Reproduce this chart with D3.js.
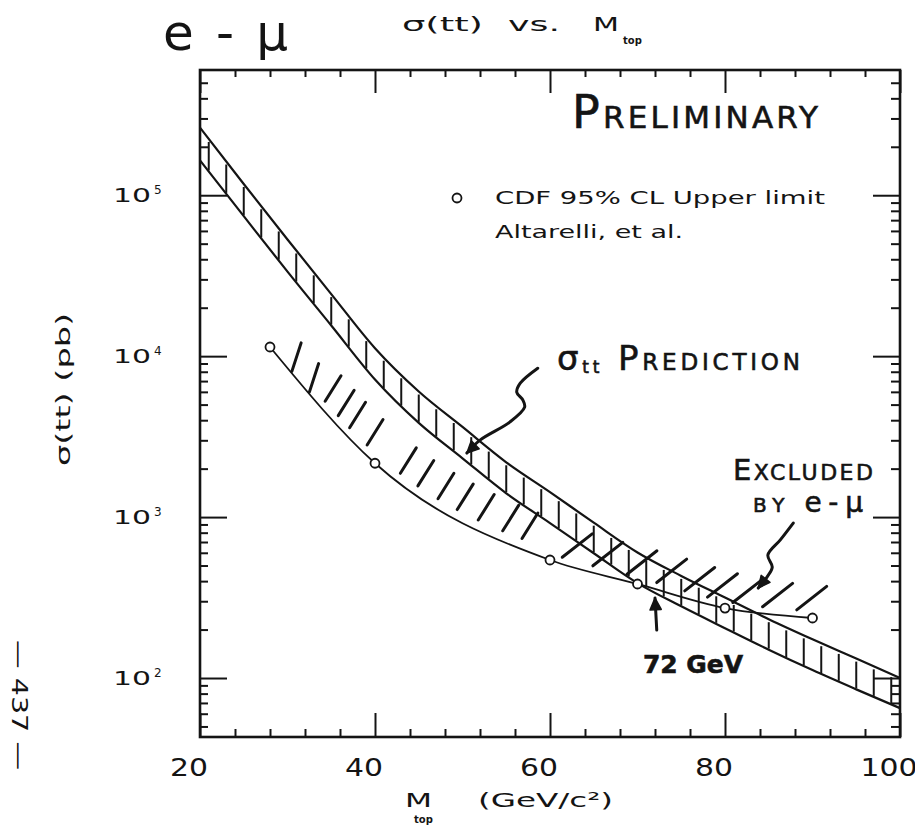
<!DOCTYPE html>
<html><head><meta charset="utf-8">
<script src="https://cdn.jsdelivr.net/npm/d3@7"></script>
<style>body{margin:0;background:#fff} svg{display:block}</style>
</head><body>
<svg id="c" width="915" height="830"></svg>
<script>
// ---------------- data ----------------
const massGrid   = [20, 25, 30, 35, 40, 45, 50, 55, 60, 65, 70, 75, 80, 85, 90, 95, 100];
const sigmaUpper = [263000, 117500, 53100, 24300, 11200, 6030, 3630, 2190, 1430, 923, 603, 431, 316, 232, 174, 132, 100];
const sigmaLower = [164800, 74100, 33500, 15500, 7160, 3850, 2320, 1406, 918, 596, 389, 279, 204, 150, 112, 85, 65];
const cdfMass  = [28, 40, 60, 70, 80, 90];
const cdfLimit = [11400, 2160, 541, 384, 272, 236];
const xTickLabels = [20, 40, 60, 80, 100];
const yTickLabels = [100, 1000, 10000, 100000];
const bandHatchMass = [21,23,25,27,29,31,33,35,37,39,41,43,45,47,49,51,53,55,57,59,61,63,65,67,69,71,73,75,77,79,81,83,85,87,89,91,93,95,97,99];
const exclHatchMass = [30.5, 32.5, 34.3, 35.8, 37.1, 39.1, 42.9, 44.9, 47.2, 49.4, 51.8, 54.6, 56.8, 61.4, 64.9, 68.8, 72.2, 75.4, 78.0, 80.9, 84.3, 88.2];
// annotation arrows in (mass, log10 sigma)
const arrowSigma = [[58.6,3.925],[56.6,3.832],[56.2,3.776],[56.9,3.727],[57.1,3.683],[55.4,3.590],[52.0,3.478],[50.5,3.398]];
const arrowExcl  = [[87.8,2.963],[86.3,2.857],[84.9,2.764],[85.4,2.689],[84.8,2.627],[83.8,2.559]];
const arrow72    = [[72.2,2.298],[72.0,2.497]];

// ---------------- setup ----------------
const svg = d3.select('#c');
const INK = '#141414';
const FONT = 'DejaVu Sans';
const x = d3.scaleLinear().domain([20, 100]).range([200, 900]);
const y = d3.scaleLog().domain([43, 6.0e5]).range([737, 70]);
const at = (m, lg) => [x(m), y(Math.pow(10, lg))];

function logInterp(ms, vs, m) {
  let i = d3.bisectRight(ms, m) - 1;
  i = Math.max(0, Math.min(ms.length - 2, i));
  const t = (m - ms[i]) / (ms[i + 1] - ms[i]);
  return Math.pow(10, Math.log10(vs[i]) * (1 - t) + Math.log10(vs[i + 1]) * t);
}
function pathYAt(node, px) {
  const L = node.getTotalLength();
  let lo = 0, hi = L;
  for (let k = 0; k < 40; k++) {
    const mid = (lo + hi) / 2;
    if (node.getPointAtLength(mid).x < px) lo = mid; else hi = mid;
  }
  return node.getPointAtLength((lo + hi) / 2).y;
}

// ---------------- axes ----------------
const yTicksAll = [];
for (let e = 1; e <= 5; e++) for (let k = 1; k <= 9; k++) {
  const v = k * Math.pow(10, e);
  if (v >= 43 && v < 5.9e5) yTicksAll.push(v);
}
const isDecade = v => Math.abs(Math.log10(v) - Math.round(Math.log10(v))) < 1e-9;
const xTicksAll = d3.range(20, 101, 4);
const isMajorX = v => v % 20 === 0;

function styleAxis(g) {
  g.select('.domain').remove();
  g.selectAll('.tick line').attr('stroke', INK).attr('stroke-width', 2);
}
svg.append('g').attr('transform', 'translate(200,0)')
  .call(d3.axisRight(y).tickValues(yTicksAll).tickFormat(''))
  .call(styleAxis).selectAll('.tick line').attr('x2', d => isDecade(d) ? 27 : 8);
svg.append('g').attr('transform', 'translate(900,0)')
  .call(d3.axisLeft(y).tickValues(yTicksAll).tickFormat(''))
  .call(styleAxis).selectAll('.tick line').attr('x2', d => isDecade(d) ? -27 : -9);
svg.append('g').attr('transform', 'translate(0,70)')
  .call(d3.axisBottom(x).tickValues(xTicksAll).tickFormat(''))
  .call(styleAxis).selectAll('.tick line').attr('y2', d => isMajorX(d) ? 23 : 7);
svg.append('g').attr('transform', 'translate(0,737)')
  .call(d3.axisTop(x).tickValues(xTicksAll).tickFormat(''))
  .call(styleAxis).selectAll('.tick line').attr('y2', d => isMajorX(d) ? -24 : -8);

svg.append('rect').attr('x', 200).attr('y', 70).attr('width', 700).attr('height', 667)
  .attr('fill', 'none').attr('stroke', INK).attr('stroke-width', 2.6);

// tick labels
const yl = svg.append('g').attr('font-family', FONT).attr('fill', INK);
yTickLabels.forEach(v => {
  yl.append('text').attr('x', 113).attr('y', y(v) + 7).attr('font-size', 20)
    .attr('textLength', 38).attr('lengthAdjust', 'spacingAndGlyphs').text('10');
  yl.append('text').attr('x', 154).attr('y', y(v) - 1).attr('font-size', 12)
    .text(Math.round(Math.log10(v)));
});
const xl = svg.append('g').attr('font-family', FONT).attr('fill', INK);
xTickLabels.forEach(v => {
  const w = String(v).length * 19;
  xl.append('text').attr('x', x(v) - 11 - w / 2).attr('y', 776)
    .attr('font-size', 25).attr('textLength', w).attr('lengthAdjust', 'spacingAndGlyphs').text(v);
});

// axis titles
svg.append('text').attr('transform', 'translate(70,390) rotate(-90)')
  .attr('x', -76).attr('font-family', FONT).attr('font-size', 20)
  .attr('textLength', 153).attr('lengthAdjust', 'spacingAndGlyphs').attr('fill', INK).text('σ(tt)  (pb)');
svg.append('text').attr('x', 405).attr('y', 807).attr('font-family', FONT)
  .attr('font-size', 20).attr('textLength', 27).attr('lengthAdjust', 'spacingAndGlyphs').attr('fill', INK).text('M');
svg.append('text').attr('x', 414).attr('y', 823).attr('font-family', FONT)
  .attr('font-size', 10).attr('font-weight', 'bold').attr('fill', INK).text('top');
svg.append('text').attr('x', 478).attr('y', 807).attr('font-family', FONT)
  .attr('font-size', 20).attr('textLength', 135).attr('lengthAdjust', 'spacingAndGlyphs').attr('fill', INK).text('(GeV/c²)');

// title
const tt = svg.append('g').attr('font-family', FONT).attr('fill', INK).attr('font-size', 19);
tt.append('text').attr('x', 402).attr('y', 31).attr('textLength', 81).attr('lengthAdjust', 'spacingAndGlyphs').text('σ(tt)');
tt.append('text').attr('x', 508).attr('y', 31).attr('textLength', 52).attr('lengthAdjust', 'spacingAndGlyphs').text('vs.');
tt.append('text').attr('x', 593).attr('y', 31).attr('textLength', 26).attr('lengthAdjust', 'spacingAndGlyphs').text('M');
tt.append('text').attr('x', 623).attr('y', 44).attr('font-size', 10).attr('font-weight', 'bold').text('top');
svg.append('text').attr('x', 163).attr('y', 50).attr('font-family', FONT)
  .attr('font-size', 50).attr('textLength', 125).attr('lengthAdjust', 'spacing').attr('fill', INK).text('e - μ');

// page number
svg.append('text').attr('transform', 'translate(12,705) rotate(90)')
  .attr('x', -65).attr('font-family', FONT).attr('font-size', 22)
  .attr('textLength', 130).attr('lengthAdjust', 'spacingAndGlyphs').attr('fill', INK).text('— 437 —');

// ---------------- theory band ----------------
const bandU = massGrid.map((m, i) => ({ m, v: sigmaUpper[i] }));
const bandL = massGrid.map((m, i) => ({ m, v: sigmaLower[i] }));
const line = d3.line().x(d => x(d.m)).y(d => y(d.v)).curve(d3.curveMonotoneX);
const plot = svg.append('g');
const pU = plot.append('path').attr('d', line(bandU)).attr('fill', 'none').attr('stroke', INK).attr('stroke-width', 2.2);
const pL = plot.append('path').attr('d', line(bandL)).attr('fill', 'none').attr('stroke', INK).attr('stroke-width', 2.2);
plot.selectAll('line.bh').data(bandHatchMass).join('line').attr('class', 'bh')
  .attr('x1', m => x(m)).attr('x2', m => x(m))
  .attr('y1', m => pathYAt(pL.node(), x(m)) - 1)
  .attr('y2', m => pathYAt(pU.node(), x(m)) + 3)
  .attr('stroke', INK).attr('stroke-width', 2);

// ---------------- CDF limit ----------------
const cdf = cdfMass.map((m, i) => ({ m, v: cdfLimit[i] }));
const pC = plot.append('path').attr('d', line(cdf)).attr('fill', 'none').attr('stroke', INK).attr('stroke-width', 1.8);

// excluded-region hand hatching
plot.selectAll('line.eh').data(exclHatchMass).join('line').attr('class', 'eh')
  .each(function (m) {
    const bx = x(m), by = pathYAt(pC.node(), bx) - (m < 33 ? 2 : m < 58 ? 11 : 7);
    const ang = (m < 33 ? 72 : m < 58 ? 58 : 38) * Math.PI / 180;
    const len = m < 58 ? 30 : 38;
    d3.select(this).attr('x1', bx).attr('y1', by)
      .attr('x2', bx + len * Math.cos(ang)).attr('y2', by - len * Math.sin(ang));
  })
  .attr('stroke', INK).attr('stroke-width', 3).attr('stroke-linecap', 'round');

plot.selectAll('circle.cdf').data(cdf).join('circle').attr('class', 'cdf')
  .attr('cx', d => x(d.m)).attr('cy', d => y(d.v)).attr('r', 4.5)
  .attr('fill', '#fff').attr('stroke', INK).attr('stroke-width', 1.8);

// ---------------- legend ----------------
svg.append('circle').attr('cx', 457).attr('cy', 198).attr('r', 4.5)
  .attr('fill', 'none').attr('stroke', INK).attr('stroke-width', 1.8);
svg.append('text').attr('x', 495).attr('y', 204).attr('font-family', FONT)
  .attr('font-size', 17).attr('textLength', 330).attr('lengthAdjust', 'spacingAndGlyphs')
  .attr('fill', INK).text('CDF 95% CL  Upper  limit');
svg.append('text').attr('x', 495).attr('y', 238).attr('font-family', FONT)
  .attr('font-size', 17).attr('textLength', 188).attr('lengthAdjust', 'spacingAndGlyphs')
  .attr('fill', INK).text('Altarelli,  et  al.');

// ---------------- hand annotations ----------------
const hand = svg.append('g').attr('font-family', FONT).attr('fill', INK)
  .attr('stroke', INK).attr('stroke-width', 0.6);
let t = hand.append('text').attr('x', 572).attr('y', 128).attr('textLength', 246).attr('lengthAdjust', 'spacing');
t.append('tspan').attr('font-size', 46).text('P');
t.append('tspan').attr('font-size', 31).text('RELIMINARY');

t = hand.append('text').attr('x', 557).attr('y', 370).attr('textLength', 243).attr('lengthAdjust', 'spacing');
t.append('tspan').attr('font-size', 34).text('σ');
t.append('tspan').attr('font-size', 17).attr('dy', 3).text('tt');
t.append('tspan').attr('font-size', 34).attr('dy', -3).text(' P');
t.append('tspan').attr('font-size', 23).text('REDICTION');

t = hand.append('text').attr('x', 733).attr('y', 480).attr('textLength', 140).attr('lengthAdjust', 'spacing');
t.append('tspan').attr('font-size', 29).text('E');
t.append('tspan').attr('font-size', 22).text('XCLUDED');
t = hand.append('text').attr('x', 753).attr('y', 512).attr('textLength', 110).attr('lengthAdjust', 'spacing');
t.append('tspan').attr('font-size', 20).text('BY ');
t.append('tspan').attr('font-size', 28).text('e-μ');

hand.append('text').attr('x', 643).attr('y', 673).attr('font-size', 25).attr('font-weight', 'bold')
  .attr('textLength', 100).attr('lengthAdjust', 'spacing').text('72 GeV');

// arrows
function drawArrow(pts, curve) {
  const p = pts.map(d => at(d[0], d[1]));
  svg.append('path').attr('d', d3.line().curve(curve)(p)).attr('fill', 'none')
    .attr('stroke', INK).attr('stroke-width', 3).attr('stroke-linecap', 'round');
  const a = p[p.length - 1], b = p[p.length - 2];
  const ang = Math.atan2(a[1] - b[1], a[0] - b[0]);
  const L = 13, w = 0.45;
  const h1 = [a[0] - L * Math.cos(ang - w), a[1] - L * Math.sin(ang - w)];
  const h2 = [a[0] - L * Math.cos(ang + w), a[1] - L * Math.sin(ang + w)];
  svg.append('path').attr('d', `M${h1}L${a}L${h2}Z`).attr('fill', INK).attr('stroke', INK)
    .attr('stroke-width', 1.5).attr('stroke-linejoin', 'round');
}
drawArrow(arrowSigma, d3.curveCatmullRom);
drawArrow(arrowExcl, d3.curveCatmullRom);
drawArrow(arrow72, d3.curveLinear);
</script>
</body></html>
